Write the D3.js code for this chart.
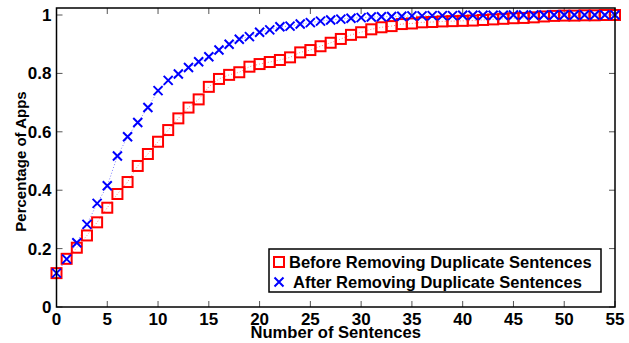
<!DOCTYPE html>
<html>
<head>
<meta charset="utf-8">
<script src="https://cdn.jsdelivr.net/npm/d3@7"></script>
<style>
  body { margin: 0; background: #fff; }
  text { font-family: "Liberation Sans", Arial, Helvetica, sans-serif; font-weight: bold; }
</style>
</head>
<body>
<div id="chart"></div>
<script>
// number of sentences 0..55
var sentences = d3.range(0, 56);

var beforeValues = [
  0.116, 0.165, 0.203, 0.245, 0.290, 0.340, 0.387, 0.428, 0.483, 0.524,
  0.566, 0.606, 0.646, 0.683, 0.711, 0.754, 0.781, 0.795, 0.804, 0.823,
  0.832, 0.839, 0.846, 0.855, 0.872, 0.880, 0.893, 0.905, 0.918, 0.932,
  0.941, 0.951, 0.958, 0.962, 0.969, 0.971, 0.975, 0.976, 0.978, 0.979,
  0.980, 0.981, 0.983, 0.985, 0.987, 0.989, 0.990, 0.992, 0.995, 0.997,
  0.998, 0.998, 0.999, 0.999, 1.000, 1.000
];

var afterValues = [
  0.116, 0.164, 0.220, 0.283, 0.355, 0.415, 0.517, 0.583, 0.632, 0.683,
  0.741, 0.776, 0.798, 0.820, 0.840, 0.857, 0.880, 0.900, 0.917, 0.926,
  0.941, 0.949, 0.960, 0.962, 0.969, 0.974, 0.979, 0.983, 0.986, 0.989,
  0.991, 0.993, 0.994, 0.995, 0.996, 0.997, 0.997, 0.998, 0.998, 0.998,
  0.999, 0.999, 0.999, 0.999, 0.999, 1.000, 1.000, 1.000, 1.000, 1.000,
  1.000, 1.000, 1.000, 1.000, 1.000, 1.000
];

var xTicks = [0, 5, 10, 15, 20, 25, 30, 35, 40, 45, 50, 55];
var yTicks = [0, 0.2, 0.4, 0.6, 0.8, 1];
var seriesNames = ["Before Removing Duplicate Sentences", "After Removing Duplicate Sentences"];

var width = 629, height = 343;
var margin = {top: 8, right: 14, bottom: 36, left: 56.5};

var svg = d3.select('#chart').append('svg')
  .attr('width', width).attr('height', height);

var x = d3.scaleLinear().domain([0, 55]).range([margin.left, width - margin.right]);
var y = d3.scaleLinear().domain([0, 1.024]).range([height - margin.bottom, margin.top]);

var x0 = margin.left, x1 = width - margin.right, y0 = height - margin.bottom, y1 = margin.top;

// ticks on all four sides, pointing in
var tickLen = 6;
var g = svg.append('g').attr('class', 'ticks').attr('stroke', '#555').attr('stroke-width', 1);
xTicks.forEach(function(t) {
  g.append('line').attr('x1', x(t)).attr('x2', x(t)).attr('y1', y0).attr('y2', y0 - tickLen);
  g.append('line').attr('x1', x(t)).attr('x2', x(t)).attr('y1', y1).attr('y2', y1 + tickLen);
});
yTicks.forEach(function(t) {
  g.append('line').attr('x1', x0).attr('x2', x0 + tickLen).attr('y1', y(t)).attr('y2', y(t));
  g.append('line').attr('x1', x1).attr('x2', x1 - tickLen).attr('y1', y(t)).attr('y2', y(t));
});

// tick labels
svg.append('g').selectAll('text').data(xTicks).enter().append('text')
  .attr('x', function(d) { return x(d); })
  .attr('y', y0 + 18)
  .attr('text-anchor', 'middle')
  .attr('font-size', 17)
  .text(function(d) { return d; });

svg.append('g').selectAll('text').data(yTicks).enter().append('text')
  .attr('x', x0 - 5)
  .attr('y', function(d) { return y(d) + 6; })
  .attr('text-anchor', 'end')
  .attr('font-size', 17)
  .text(function(d) { return d; });

// axis titles
svg.append('text')
  .attr('x', (x0 + x1) / 2)
  .attr('y', 338)
  .attr('text-anchor', 'middle')
  .attr('font-size', 16.6)
  .text('Number of Sentences');

svg.append('text')
  .attr('transform', 'translate(26,' + ((y0 + y1) / 2 + 4) + ') rotate(-90)')
  .attr('text-anchor', 'middle')
  .attr('font-size', 15)
  .text('Percentage of Apps');

// dotted connecting lines
var line = d3.line().x(function(d, i) { return x(sentences[i]); }).y(function(d) { return y(d); });

svg.append('path').datum(beforeValues)
  .attr('d', line)
  .attr('fill', 'none')
  .attr('stroke', '#ff8080')
  .attr('stroke-width', 1)
  .attr('stroke-dasharray', '1,2');

svg.append('path').datum(afterValues)
  .attr('d', line)
  .attr('fill', 'none')
  .attr('stroke', '#8080ff')
  .attr('stroke-width', 1)
  .attr('stroke-dasharray', '1,2');

// markers
var sq = 10;
svg.append('g').selectAll('rect').data(beforeValues).enter().append('rect')
  .attr('x', function(d, i) { return x(sentences[i]) - sq / 2; })
  .attr('y', function(d) { return y(d) - sq / 2; })
  .attr('width', sq).attr('height', sq)
  .attr('fill', 'none')
  .attr('stroke', '#ff0000')
  .attr('stroke-width', 2);

var xs = 4.5;
var crosses = svg.append('g').attr('stroke', '#0000ff').attr('stroke-width', 2);
afterValues.forEach(function(d, i) {
  var cx = x(sentences[i]), cy = y(d);
  crosses.append('path')
    .attr('d', 'M' + (cx - xs) + ',' + (cy - xs) + 'L' + (cx + xs) + ',' + (cy + xs) +
               'M' + (cx - xs) + ',' + (cy + xs) + 'L' + (cx + xs) + ',' + (cy - xs));
});

// axes box
svg.append('rect')
  .attr('x', x0).attr('y', y1)
  .attr('width', x1 - x0).attr('height', y0 - y1)
  .attr('fill', 'none').attr('stroke', '#000').attr('stroke-width', 1.5);

// legend
var lg = svg.append('g').attr('transform', 'translate(269,249)');
lg.append('rect').attr('width', 332).attr('height', 43)
  .attr('fill', '#fff').attr('stroke', '#000').attr('stroke-width', 1.5);
lg.append('rect').attr('x', 5).attr('y', 8).attr('width', sq).attr('height', sq)
  .attr('fill', 'none').attr('stroke', '#ff0000').attr('stroke-width', 2);
lg.append('path')
  .attr('d', 'M' + (10 - xs) + ',' + (33 - xs) + 'L' + (10 + xs) + ',' + (33 + xs) +
             'M' + (10 - xs) + ',' + (33 + xs) + 'L' + (10 + xs) + ',' + (33 - xs))
  .attr('stroke', '#0000ff').attr('stroke-width', 2);
lg.selectAll('text').data(seriesNames).enter().append('text')
  .attr('x', function(d, i) { return i === 0 ? 20 : 24; })
  .attr('y', function(d, i) { return 19 + i * 20; })
  .attr('font-size', 16.5)
  .text(function(d) { return d; });
</script>
</body>
</html>
